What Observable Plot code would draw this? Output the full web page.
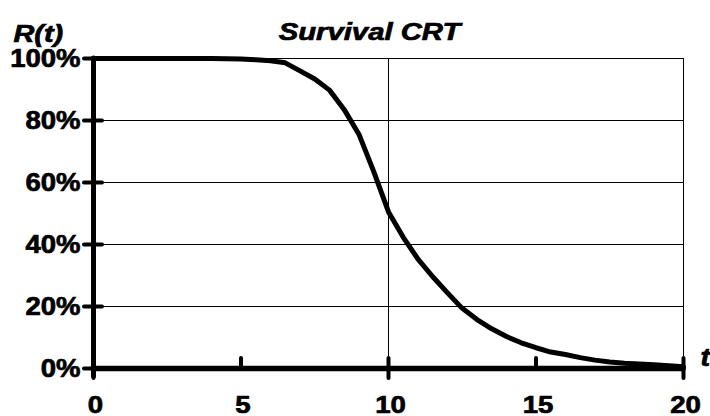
<!DOCTYPE html>
<html><head><meta charset="utf-8">
<script src="https://cdn.jsdelivr.net/npm/d3@7"></script>
<script src="https://cdn.jsdelivr.net/npm/@observablehq/plot@0.6"></script>
<style>body{margin:0;background:#fff} svg{display:block} svg text{stroke:#000;stroke-width:0.7px;}</style>
</head><body><div id="chart"></div>
<script>
const tValues = [0,1,2,3,4,5,5.5,6,6.5,7,7.5,8,8.5,9,9.5,10,10.5,11,11.5,12,12.5,13,13.5,14,14.5,15,15.5,16,16.5,17,17.5,18,19,20];
const rValues = [100,100,100,100,100,99.8,99.6,99.3,98.6,96.0,93.4,89.8,83.5,75.5,63.5,50.5,42.3,35.3,29.6,24.4,19.4,15.8,12.8,10.3,8.3,6.7,5.3,4.5,3.5,2.7,2.1,1.7,1.2,0.6];
const yTicks = [0,20,40,60,80,100];
const yGrid = [20,40,60,80,100];
const xMajor = [0,10,20];
const xMinor = [5,15];
const xLabels = [0,5,10,15,20];
const title = "Survival CRT";
const yTitle = "R(t)";
const xTitle = "t";

const data = tValues.map((t,i)=>({t, R:rValues[i]}));
const font = "'Liberation Sans', Arial, sans-serif";

const plot = Plot.plot({
  width:710, height:416, marginLeft:93, marginRight:27, marginTop:58, marginBottom:48,
  style:{fontFamily:font, background:"#fff", overflow:"visible", color:"#000"},
  x:{domain:[0,20]}, y:{domain:[0,100]},
  marks:[
    Plot.gridY(yGrid, {stroke:"#000", strokeOpacity:1, strokeWidth:1}),
    Plot.gridX([10,20], {stroke:"#000", strokeOpacity:1, strokeWidth:1}),
    Plot.line(data, {x:"t", y:"R", stroke:"#000", strokeWidth:5, strokeLinejoin:"round", strokeLinecap:"round"}),
    Plot.ruleY([0], {stroke:"#000", strokeWidth:5.5, strokeLinecap:"round"}),
    Plot.ruleX([0], {stroke:"#000", strokeWidth:5, insetBottom:-8, strokeLinecap:"round"}),
    Plot.axisY(yTicks, {anchor:"left", tickSize:18, dx:9, strokeWidth:4, strokeLinecap:"round", tickFormat:()=>"", label:null}),
    Plot.axisY(yTicks, {anchor:"left", tickSize:0, tickPadding:13, tickFormat:d=>d+"%", fontSize:25, fontWeight:"bold", label:null}),
    Plot.axisX(xMajor, {anchor:"bottom", tickSize:20, dy:-10, strokeWidth:4, strokeLinecap:"round", tickFormat:()=>"", label:null}),
    Plot.axisX(xMinor, {anchor:"bottom", tickSize:10, dy:-10, strokeWidth:4, strokeLinecap:"round", tickFormat:()=>"", label:null}),
    Plot.axisX(xLabels, {anchor:"bottom", tickSize:0, tickPadding:27, dx:2, fontSize:24, fontWeight:"bold", label:null}),
    Plot.text([title], {frameAnchor:"top", dx:-19, dy:-26, lineAnchor:"middle", fontSize:24, fontWeight:"bold", fontStyle:"italic"}),
    Plot.text([yTitle], {frameAnchor:"top-left", textAnchor:"start", dx:-80, dy:-24, lineAnchor:"middle", fontSize:24, fontWeight:"bold", fontStyle:"italic"}),
    Plot.text([xTitle], {frameAnchor:"bottom-right", textAnchor:"start", dx:17, dy:-11.3, lineAnchor:"middle", fontSize:26, fontWeight:"bold", fontStyle:"italic"})
  ]
});
document.getElementById("chart").appendChild(plot);
const stretchBy = new Map([[title, 1.22], [yTitle, 1.2], [xTitle, 1.1]]);
xLabels.forEach(v => stretchBy.set(String(v), 1.15));
yTicks.forEach(v => stretchBy.set(v + "%", 1.1));
d3.select(plot).selectAll("text").each(function(){
  const k = stretchBy.get(this.textContent.trim());
  const L = this.getComputedTextLength();
  if (k && L > 0) { this.setAttribute("textLength", L*k); this.setAttribute("lengthAdjust","spacingAndGlyphs"); }
});
</script>
</body></html>
